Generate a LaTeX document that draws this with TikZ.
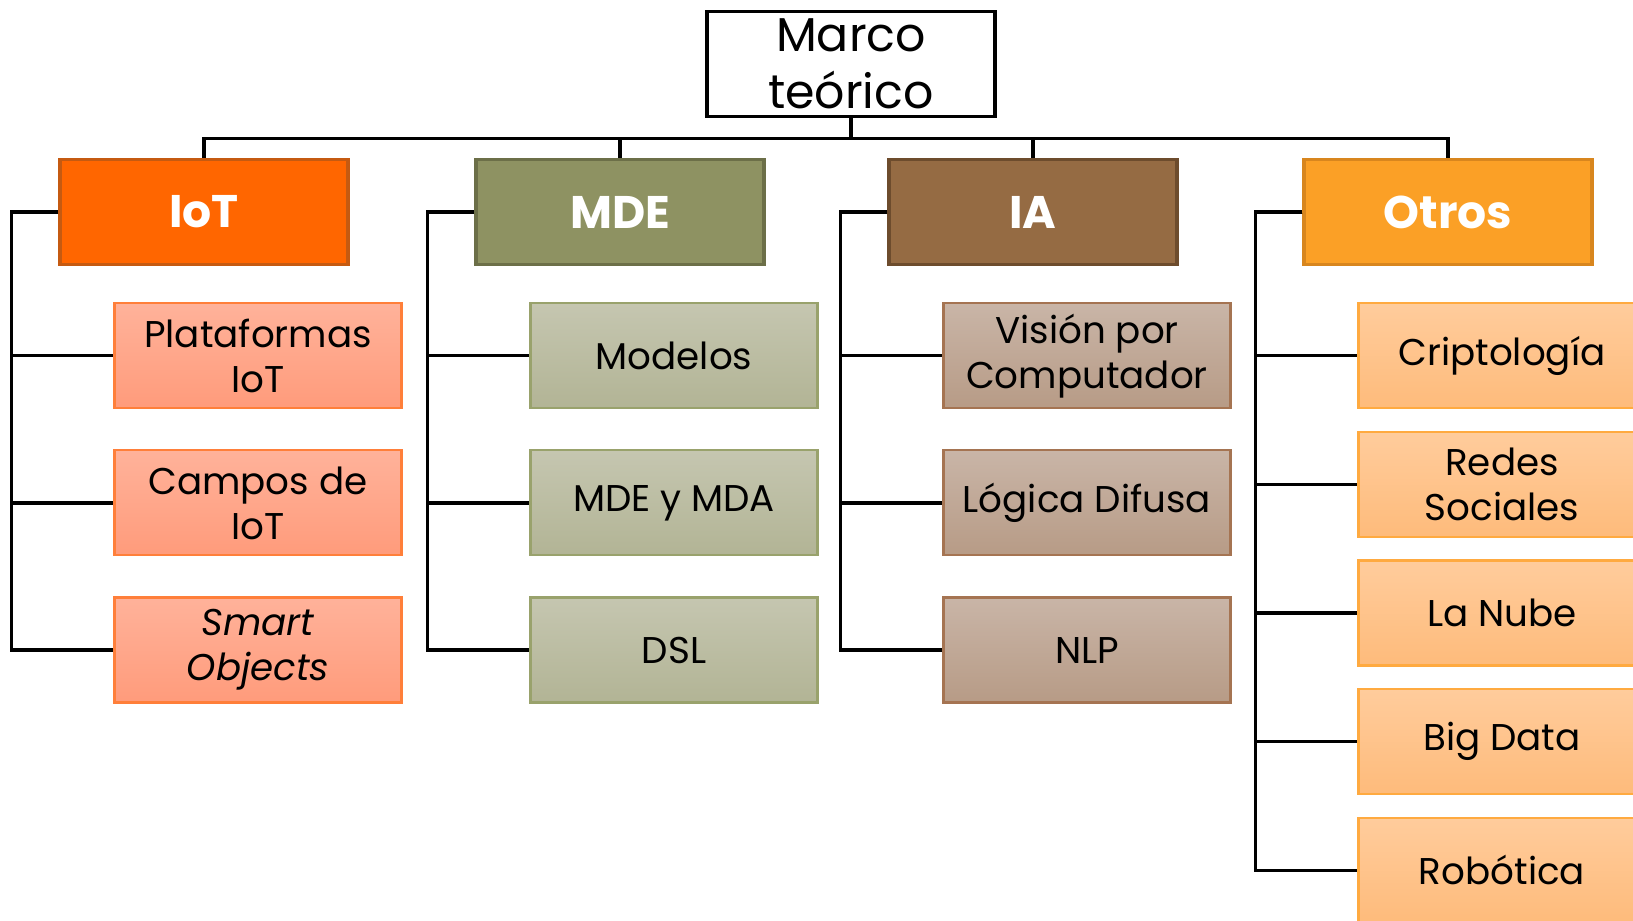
\documentclass[tikz,border=0pt]{standalone}
\usepackage{fontspec}
\setmainfont{Poppins}
\usepackage{tikz}
\usetikzlibrary{positioning}
\usepackage{xcolor}
\definecolor{ciot}{HTML}{FF6600}
\definecolor{ciotline}{HTML}{C55A11}
\definecolor{cmde}{HTML}{8E9262}
\definecolor{cmdeline}{HTML}{6C6F48}
\definecolor{cia}{HTML}{956B43}
\definecolor{cialine}{HTML}{6D4C2D}
\definecolor{cotr}{HTML}{FBA026}
\definecolor{cotrline}{HTML}{D8861E}
\definecolor{ciottop}{HTML}{FFB29A}
\definecolor{ciotbot}{HTML}{FF9B7B}
\definecolor{ciotsub}{HTML}{FF7F3A}
\definecolor{cmdetop}{HTML}{C5C6B0}
\definecolor{cmdebot}{HTML}{B2B495}
\definecolor{cmdesub}{HTML}{99A26C}
\definecolor{ciatop}{HTML}{C9B5A7}
\definecolor{ciabot}{HTML}{B79B86}
\definecolor{ciasub}{HTML}{A57452}
\definecolor{cotrtop}{HTML}{FFCC9C}
\definecolor{cotrbot}{HTML}{FEBB7B}
\definecolor{cotrsub}{HTML}{FFAA40}

\begin{document}
\begin{tikzpicture}[
  root/.style={draw=black, line width=1pt, fill=white, minimum width=2.88cm,
               minimum height=1.05cm, inner sep=0pt, align=center,
               font=\fontsize{13.5}{16.2}\selectfont},
  cat/.style={line width=1pt, minimum width=2.88cm, minimum height=1.05cm,
              text=white, font=\fontsize{13}{15}\selectfont\bfseries},
  sub/.style={line width=0.6pt, minimum width=2.87cm, minimum height=1.05cm,
              inner sep=0pt, align=center, font=\fontsize{10.6}{12.8}\selectfont},
  iotsub/.style={sub, draw=ciotsub, top color=ciottop, bottom color=ciotbot},
  mdesub/.style={sub, draw=cmdesub, top color=cmdetop, bottom color=cmdebot},
  iasub/.style={sub, draw=ciasub, top color=ciatop, bottom color=ciabot},
  otrsub/.style={sub, draw=cotrsub, top color=cotrtop, bottom color=cotrbot},
  link/.style={line width=0.9pt}
]
  \clip (0,0) rectangle (16.33,-9.20);

  \node[root] (mt) at (8.51,-0.64) {Marco\\teórico};

  \node[cat, fill=ciot, draw=ciotline] (iot) at (2.04,-2.12) {IoT};
  \node[cat, fill=cmde, draw=cmdeline] (mde) at (6.20,-2.12) {MDE};
  \node[cat, fill=cia, draw=cialine] (ia) at (10.33,-2.12) {IA};
  \node[cat, fill=cotr, draw=cotrline] (otros) at (14.48,-2.12) {Otros};

  \node[iotsub, below=0.36cm of iot, xshift=0.54cm] (iot1) {Plataformas\\IoT};
  \node[iotsub, below=0.40cm of iot1] (iot2) {Campos de\\IoT};
  \node[iotsub, below=0.40cm of iot2] (iot3) {\textit{Smart}\\\textit{Objects}};

  \node[mdesub, below=0.36cm of mde, xshift=0.54cm] (mde1) {Modelos};
  \node[mdesub, below=0.40cm of mde1] (mde2) {MDE y MDA};
  \node[mdesub, below=0.40cm of mde2] (mde3) {DSL};

  \node[iasub, below=0.36cm of ia, xshift=0.54cm] (ia1) {Visión por\\Computador};
  \node[iasub, below=0.40cm of ia1] (ia2) {Lógica Difusa};
  \node[iasub, below=0.40cm of ia2] (ia3) {NLP};

  \node[otrsub, below=0.36cm of otros, xshift=0.54cm] (otros1) {Criptología};
  \node[otrsub, below=0.215cm of otros1] (otros2) {Redes\\Sociales};
  \node[otrsub, below=0.215cm of otros2] (otros3) {La Nube};
  \node[otrsub, below=0.215cm of otros3] (otros4) {Big Data};
  \node[otrsub, below=0.215cm of otros4] (otros5) {Robótica};

  \draw[link] (mt.south) -- ++(0,-0.2) coordinate (bus);
  \foreach \c in {iot,mde,ia,otros}
    \draw[link] (bus) -| (\c.north);
  \foreach \c/\n in {iot/3,mde/3,ia/3,otros/5}
    \foreach \s in {1,...,\n}
      \draw[link] (\c.west) -- ++(-0.47,0) |- (\c\s.west);
\end{tikzpicture}
\end{document}
